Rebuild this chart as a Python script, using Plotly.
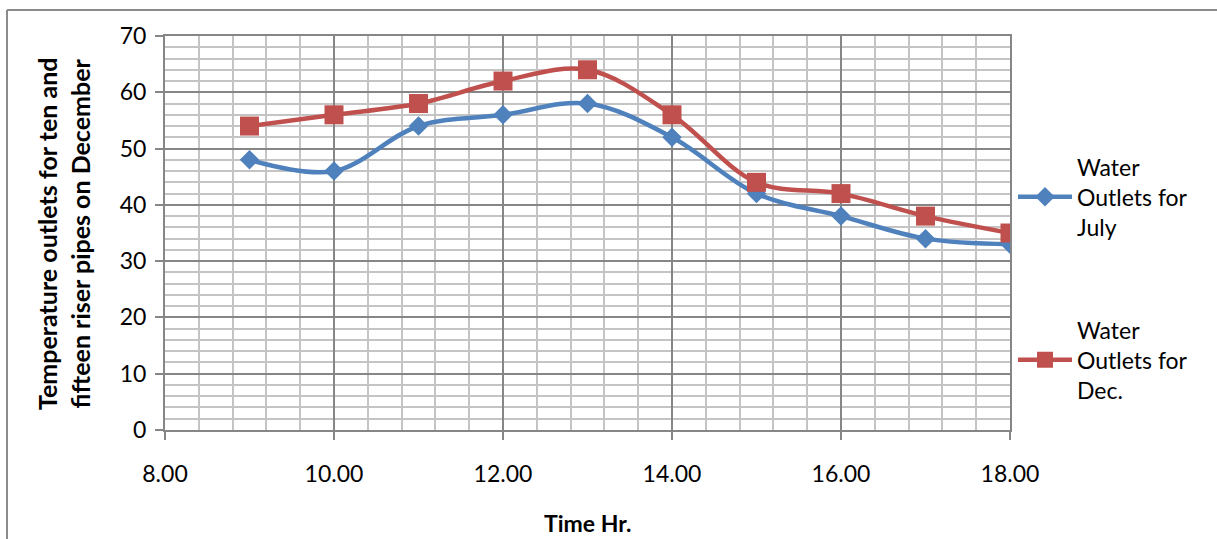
import plotly.graph_objects as go

hours = [9, 10, 11, 12, 13, 14, 15, 16, 17, 18]
july = [48, 46, 54, 56, 58, 52, 42, 38, 34, 33]
dec = [54, 56, 58, 62, 64, 56, 44, 42, 38, 35]
x_ticks = [8, 10, 12, 14, 16, 18]
x_tick_text = ["8.00", "10.00", "12.00", "14.00", "16.00", "18.00"]
y_ticks = [0, 10, 20, 30, 40, 50, 60, 70]

BLUE = "#4F81BD"
RED = "#C0504D"
FONT = "Lato"

W, H = 1217, 539
L, R, T, B = 165, 1217 - 1010, 36, 539 - 430
PW, PH = W - L - R, H - T - B


def px(xp):
    return (xp - L) / PW


def py(yp):
    return (H - B - yp) / PH


fig = go.Figure()
fig.add_trace(go.Scatter(
    x=hours, y=july, mode="lines+markers", name="Water<br>Outlets for<br>July",
    line=dict(color=BLUE, width=4.5, shape="spline", smoothing=1.0),
    marker=dict(symbol="diamond", size=15, color=BLUE),
    legend="legend", showlegend=True,
))
fig.add_trace(go.Scatter(
    x=hours, y=dec, mode="lines+markers", name="Water<br>Outlets for<br>Dec.",
    line=dict(color=RED, width=4.5, shape="spline", smoothing=1.0),
    marker=dict(symbol="square", size=19, color=RED),
    legend="legend2", showlegend=True,
))

axis_common = dict(
    showline=True, linecolor="#868686", linewidth=2, mirror=True,
    gridcolor="#868686", gridwidth=1.5,
    ticks="outside", ticklen=8, tickwidth=2, tickcolor="#868686",
    tickfont=dict(family=FONT, size=23, color="black"),
    zeroline=False,
)

fig.update_xaxes(
    range=[8, 18], tickvals=x_ticks, ticktext=x_tick_text,
    minor=dict(dtick=0.4, showgrid=True, gridcolor="#C4C4C4", gridwidth=2, ticks=""),
    ticklabelstandoff=14,
    **axis_common,
)
fig.update_yaxes(
    range=[0, 70], tickvals=y_ticks,
    minor=dict(dtick=2, showgrid=True, gridcolor="#C4C4C4", gridwidth=2, ticks=""),
    ticklabelstandoff=4,
    **axis_common,
)

legend_common = dict(
    font=dict(family=FONT, size=23, color="black"),
    bgcolor="rgba(0,0,0,0)", xanchor="left", yanchor="middle",
    itemwidth=54,
)

fig.update_layout(
    width=W, height=H,
    margin=dict(l=L, r=R, t=T, b=B),
    plot_bgcolor="white", paper_bgcolor="white",
    showlegend=True,
    legend=dict(x=px(1013), y=py(197), **legend_common),
    legend2=dict(x=px(1013), y=py(360), **legend_common),
    annotations=[
        dict(text="Temperature outlets for ten and<br>fifteen riser pipes on December",
             xref="paper", yref="paper", x=px(63), y=py(234), textangle=-90,
             showarrow=False, xanchor="center", yanchor="middle",
             font=dict(family=FONT, size=25, color="black", weight="bold")),
        dict(text="Time Hr.", xref="paper", yref="paper", x=px(587), y=py(523),
             showarrow=False, xanchor="center", yanchor="middle",
             font=dict(family=FONT, size=23, color="black", weight="bold")),
    ],
    shapes=[
        dict(type="line", xref="paper", yref="paper", x0=px(7), x1=px(7),
             y0=py(10), y1=py(545), line=dict(color="#8C8C8C", width=2)),
        dict(type="line", xref="paper", yref="paper", x0=px(7), x1=px(1220),
             y0=py(10), y1=py(10), line=dict(color="#8C8C8C", width=2)),
    ],
)

fig.write_html("out.html")
